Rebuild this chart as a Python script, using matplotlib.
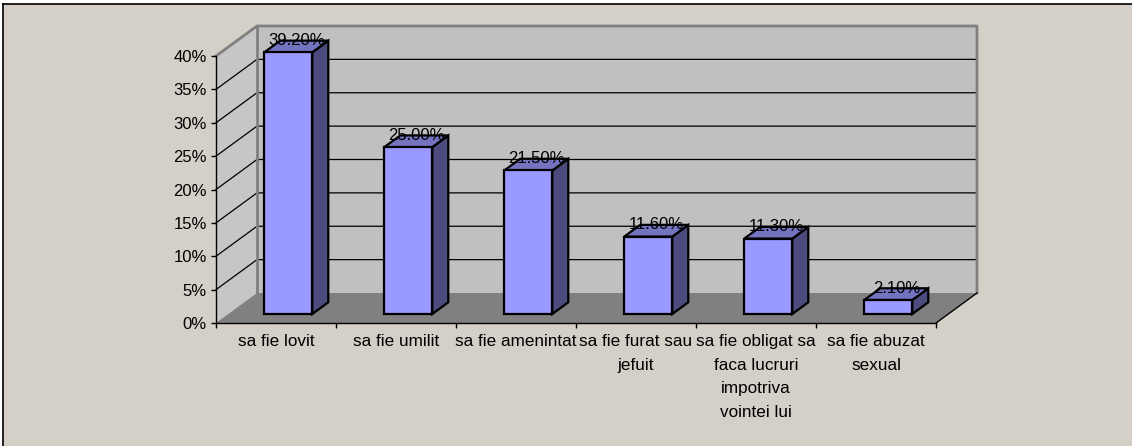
import numpy as np
import matplotlib.pyplot as plt
from matplotlib.patches import Polygon, Rectangle
from matplotlib.lines import Line2D

# date din grafic
categories = ["sa fie lovit", "sa fie umilit", "sa fie amenintat",
              "sa fie furat sau\njefuit",
              "sa fie obligat sa\nfaca lucruri\nimpotriva\nvointei lui",
              "sa fie abuzat\nsexual"]
values = [39.2, 25.0, 21.5, 11.6, 11.3, 2.1]
value_labels = ["39.20%", "25.00%", "21.50%", "11.60%", "11.30%", "2.10%"]
yticks = [0, 5, 10, 15, 20, 25, 30, 35, 40]

plt.rcParams['font.family'] = ['Liberation Sans', 'DejaVu Sans']

W, H = 1132, 446
fig = plt.figure(figsize=(W / 100, H / 100), dpi=100)
fig.patch.set_facecolor('#D4D0C8')
# margine alba sus/stanga + chenar negru
fig.add_artist(Rectangle((0, (H - 4) / H), 1, 4 / H, transform=fig.transFigure,
                         facecolor='white', edgecolor='none', zorder=-10))
fig.add_artist(Rectangle((0, 0), 3 / W, 1, transform=fig.transFigure,
                         facecolor='white', edgecolor='none', zorder=-10))
fig.add_artist(Line2D([3 / W, 1], [(H - 4) / H] * 2, transform=fig.transFigure, color='black', lw=1.2))
fig.add_artist(Line2D([3 / W] * 2, [0, (H - 4) / H], transform=fig.transFigure, color='black', lw=1.2))

# planul din fata = axele
ax = fig.add_axes([216 / W, 123 / H, 720 / W, 267 / H])
ax.set_xlim(0, 6)
ax.set_ylim(0, 40)
ax.patch.set_visible(False)

# adancimea 3D (in unitati de date)
DX = 41 / 120
DY = 30 / (267 / 40)
ymax = yticks[-1]
n = len(values)


def proj(x, y, t):
    return (x + t * DX, y + t * DY)


def poly(pts, **kw):
    p = Polygon([proj(*q) for q in pts], closed=True, clip_on=False, **kw)
    ax.add_patch(p)


def line(pts, **kw):
    xy = np.array([proj(*q) for q in pts])
    ax.plot(xy[:, 0], xy[:, 1], clip_on=False, **kw)


# pereti si podea
poly([(0, 0, 1), (n, 0, 1), (n, ymax, 1), (0, ymax, 1)], facecolor='#C0C0C0', edgecolor='none', zorder=1)
poly([(0, 0, 0), (0, 0, 1), (0, ymax, 1), (0, ymax, 0)], facecolor='#C6C6C6', edgecolor='none', zorder=1)
poly([(0, 0, 0), (n, 0, 0), (n, 0, 1), (0, 0, 1)], facecolor='#808080', edgecolor='none', zorder=1.5)

for k in yticks[1:-1]:
    line([(0, k, 0), (0, k, 1), (n, k, 1)], color='black', lw=0.9, zorder=1.2)

line([(0, ymax, 0), (0, ymax, 1), (n, ymax, 1), (n, 0, 1)], color='#808080', lw=2, zorder=1.3)
line([(0, 0, 1), (0, ymax, 1)], color='#808080', lw=2, zorder=1.3)
line([(n, 0, 0), (n, 0, 1)], color='black', lw=1, zorder=1.6)

# bare
t0, t1, hw = 0.3, 0.69, 0.2
for i, v in enumerate(values):
    x0, x1 = i + 0.5 - hw, i + 0.5 + hw
    kw = dict(edgecolor='black', lw=1.6, joinstyle='miter', zorder=3)
    poly([(x1, 0, t0), (x1, 0, t1), (x1, v, t1), (x1, v, t0)], facecolor='#4B4B7E', **kw)
    poly([(x0, v, t0), (x1, v, t0), (x1, v, t1), (x0, v, t1)], facecolor='#7373C0', **kw)
    poly([(x0, 0, t0), (x1, 0, t0), (x1, v, t0), (x0, v, t0)], facecolor='#9999FF', **kw)
    cx, cy = proj(i + 0.5, v, t1)
    ax.text(cx - (t1 - t0) / 2 * DX, cy, value_labels[i], ha='center', va='center',
            fontsize=12, color='black', zorder=5)

# axe
for s in ['top', 'right']:
    ax.spines[s].set_visible(False)
for s in ['left', 'bottom']:
    ax.spines[s].set_color('black')
    ax.spines[s].set_linewidth(1)
    ax.spines[s].set_zorder(4)

ax.set_yticks(yticks, labels=[f"{v}%" for v in yticks])
ax.tick_params(axis='y', length=3.6, width=1, pad=2.9, labelsize=12, direction='out')

ax.set_xticks(np.arange(n + 1), labels=[])
ax.tick_params(axis='x', length=3.6, width=1, direction='out')
xt = ax.get_xaxis_transform()
for i, c in enumerate(categories):
    ax.text(i + 0.5, -11 / 267, c, transform=xt, ha='center', va='top',
            multialignment='center', linespacing=1.72, fontsize=12.3)

fig.savefig('out.png', dpi=100, facecolor=fig.get_facecolor())
